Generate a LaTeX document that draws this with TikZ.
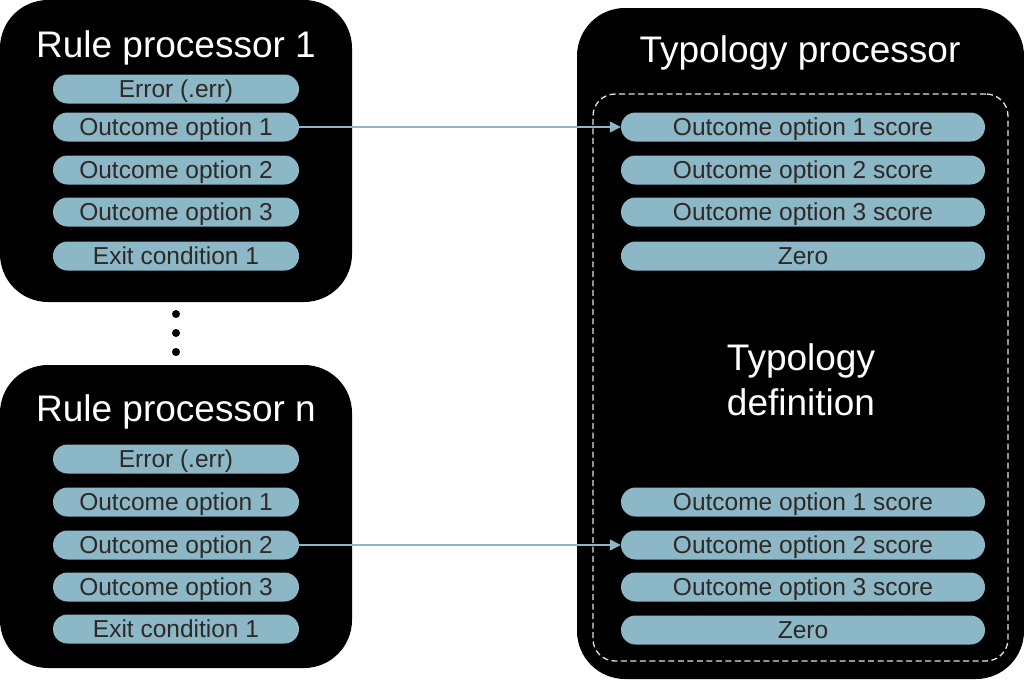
\documentclass[tikz,border=0pt]{standalone}
\usepackage{fontspec}
\setmainfont{Liberation Sans}
\usetikzlibrary{arrows.meta}
\definecolor{pillc}{HTML}{8BB7C7}
\definecolor{pilltext}{HTML}{2E2924}
\definecolor{dashc}{HTML}{D5E6EE}
\tikzset{
  panel/.style={fill=black, draw=none, rounded corners=48pt, inner sep=0pt},
  titletext/.style={text=white, font=\fontsize{37}{42}\selectfont, inner sep=0pt},
  lpill/.style={fill=pillc, draw=none, rounded corners=14.5pt, minimum width=246pt, minimum height=29pt, inner sep=0pt, text height=17.5pt, text depth=0pt, text=pilltext, font=\fontsize{24.5}{28}\selectfont},
  rpill/.style={lpill, minimum width=364pt},
  link/.style={draw=pillc, line width=1.3pt, -{Triangle[length=11pt,width=11pt]}},
  dotc/.style={circle, fill=black, minimum size=8pt, inner sep=0pt},
}
\begin{document}
\begin{tikzpicture}[x=1pt,y=-1pt]
\useasboundingbox (0,0) rectangle (1024,680);
% panels
\node[panel, minimum width=352pt, minimum height=302pt] (rp1) at (176,151) {};
\node[panel, minimum width=352pt, minimum height=303pt] (rpn) at (176,516.5) {};
\node[panel, minimum width=447pt, minimum height=671pt] (tp) at (800.5,343.5) {};
% dashed frame
\node[draw=dashc, line width=1.3pt, dash pattern=on 6pt off 3.5pt, rounded corners=22pt, minimum width=415pt, minimum height=567pt, inner sep=0pt] (td) at (800.5,377.5) {};
% titles
\node[titletext] (t1) at (176,48) {Rule processor 1};
\node[titletext] (tn) at (176,412) {Rule processor n};
\node[titletext] (tt) at (800,53) {Typology processor};
\node[titletext, align=center, font=\fontsize{37}{45}\selectfont] (tdef) at (801,380) {Typology\\definition};
% left pills 1
\node[lpill] (a0) at (176,89) {Error (.err)};
\node[lpill] (a1) at (176,127) {Outcome option 1};
\node[lpill] (a2) at (176,170) {Outcome option 2};
\node[lpill] (a3) at (176,212) {Outcome option 3};
\node[lpill] (a4) at (176,256) {Exit condition 1};
% left pills n
\node[lpill] (b0) at (176,459) {Error (.err)};
\node[lpill] (b1) at (176,502) {Outcome option 1};
\node[lpill] (b2) at (176,545) {Outcome option 2};
\node[lpill] (b3) at (176,587) {Outcome option 3};
\node[lpill] (b4) at (176,629) {Exit condition 1};
% right pills top
\node[rpill] (c1) at (803,127) {Outcome option 1 score};
\node[rpill] (c2) at (803,170) {Outcome option 2 score};
\node[rpill] (c3) at (803,212) {Outcome option 3 score};
\node[rpill] (c4) at (803,256) {Zero};
% right pills bottom
\node[rpill] (d1) at (803,502) {Outcome option 1 score};
\node[rpill] (d2) at (803,545) {Outcome option 2 score};
\node[rpill] (d3) at (803,587) {Outcome option 3 score};
\node[rpill] (d4) at (803,630) {Zero};
% dots
\node[dotc] (e1) at (176,314) {};
\node[dotc] (e2) at (176,333) {};
\node[dotc] (e3) at (176,352) {};
% arrows
\draw[link] (a1.east) -- (c1.west);
\draw[link] (b2.east) -- (d2.west);
\end{tikzpicture}
\end{document}
